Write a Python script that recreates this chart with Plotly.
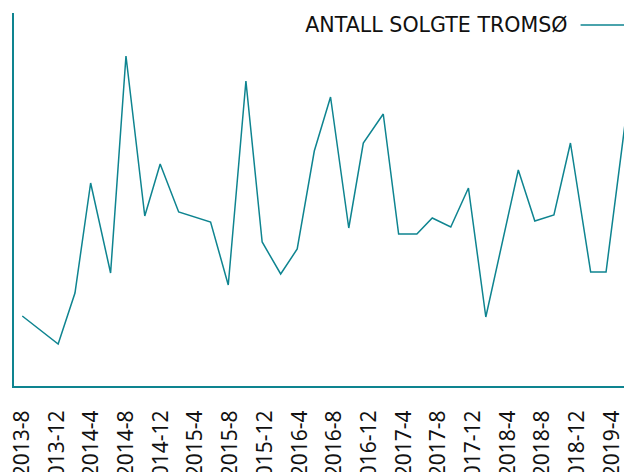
import plotly.graph_objects as go

dates = ["2013-08-01", "2013-12-05", "2014-02-02", "2014-03-29", "2014-06-07", "2014-07-31",
         "2014-10-05", "2014-11-28", "2015-02-01", "2015-05-24", "2015-07-25", "2015-09-25",
         "2015-11-21", "2016-01-25", "2016-03-23", "2016-05-22", "2016-07-18", "2016-09-20",
         "2016-11-10", "2017-01-19", "2017-03-14", "2017-05-17", "2017-07-10", "2017-09-13",
         "2017-11-14", "2018-01-14", "2018-05-08", "2018-07-05", "2018-09-10", "2018-11-07",
         "2019-01-17", "2019-03-12", "2019-06-04"]
antall = [70, 42, 93, 203, 113, 330, 170, 222, 174, 164, 101, 305,
          144, 112, 137, 235, 289, 158, 243, 272, 152, 152, 168, 159,
          198, 69, 216, 165, 171, 243, 114, 114, 301]

series_name = "ANTALL SOLGTE TROMSØ"
teal = "#0e8490"

fig = go.Figure()
fig.add_trace(go.Scatter(x=dates, y=antall, mode="lines", name="",
                         line=dict(color=teal, width=1.5), showlegend=True))

fig.update_layout(
    width=624, height=472,
    margin=dict(l=14, r=0, t=13, b=86, autoexpand=False),
    paper_bgcolor="white", plot_bgcolor="white",
    font=dict(family="DejaVu Sans", color="#111111"),
    showlegend=True,
    legend=dict(x=1.025, xanchor="right", y=1.022, yanchor="top", itemwidth=48,
                title=dict(text=series_name, side="left", font=dict(size=20.6, color="#111111")),
                bgcolor="rgba(0,0,0,0)", font=dict(size=21)),
    xaxis=dict(type="date", range=["2013-07-03", "2019-05-14"], automargin=False,
               tick0="2013-08-01", dtick="M4", tickformat="%Y-%-m",
               tickangle=-90, tickfont=dict(family="Noto Sans", size=21, color="#111111"),
               ticklabeloverflow="allow",
               showgrid=False, zeroline=False, showline=True, linecolor=teal, linewidth=2,
               ticks="", ticklabelstandoff=14),
    yaxis=dict(range=[0, 373], showticklabels=False, showgrid=False, zeroline=False, automargin=False,
               showline=True, linecolor=teal, linewidth=2, ticks=""),
)

fig.write_html("out.html", config={"displayModeBar": False},
               post_script="document.body.style.margin='0';document.body.style.overflow='hidden';")
